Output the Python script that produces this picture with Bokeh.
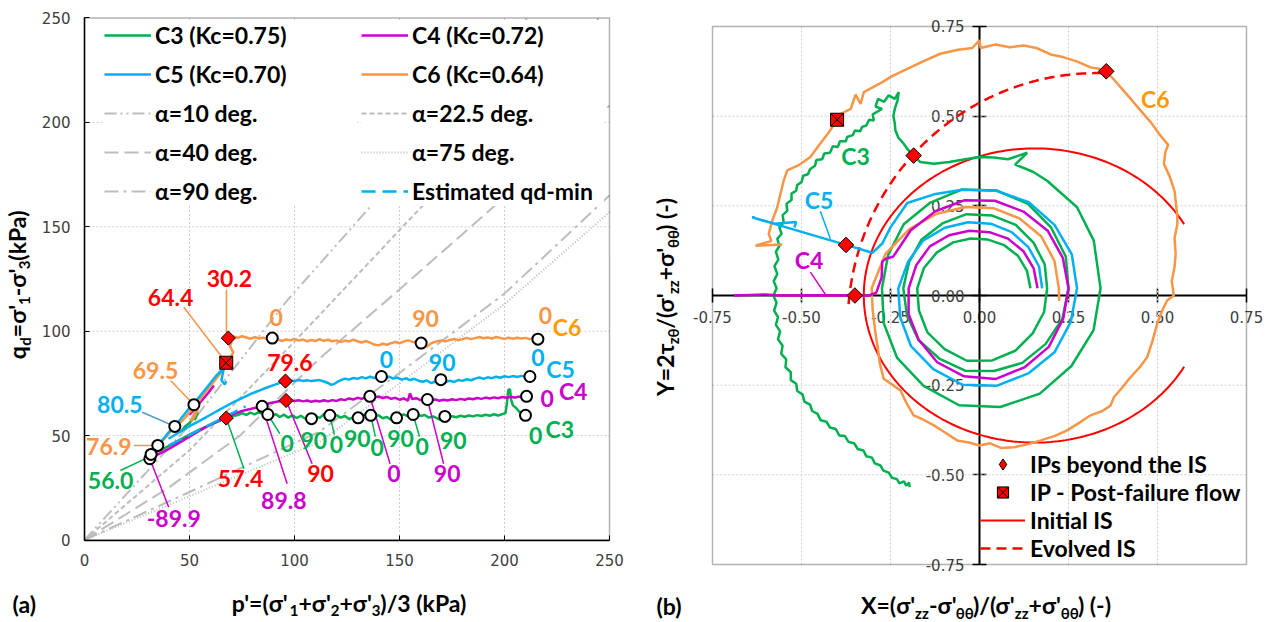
import numpy as np
from bokeh.plotting import figure
from bokeh.models import (ColumnDataSource, Range1d, Legend, LegendItem, Label,
                          FixedTicker, NumeralTickFormatter, BoxAnnotation)
from bokeh.layouts import row
from bokeh.embed import file_html
from bokeh.resources import INLINE
from bokeh.core.properties import value

NAN = float("nan")

GREEN = "#00B050"
MAGENTA = "#CC00CC"
BLUE = "#00B0F0"
ORANGE = "#F79646"
C6_TEXT = "#FF9900"
RED = "#FF0000"
GRAY = "#BDBDBD"
LEADER_BLUE = "#4A9ACB"
GRID = "#CFCFCF"
FONT = "Lato"
TICK_FONT = "DejaVu Sans"

# ---------------------------------------------------------------
# Panel (a): effective stress paths in p'-q_d space (kPa)
# ---------------------------------------------------------------
c3_pq = [(31.7, 41.0), (35, 42.5), (40, 45.0), (45, 47.7), (50, 50.5), (55, 53.0), (60, 55.3),
         (63, 56.5), (67.5, 58.4), (70, 59.3), (73, 59.8), (75, 60.8), (77, 59.9), (79, 61.0),
         (81, 60.2), (83, 61.2), (85, 60.4), (87.3, 60.1), (89, 59.2), (91, 60.3), (93, 58.9),
         (95, 60.0), (97, 58.6), (99, 59.7), (101, 58.4), (103, 59.5), (105, 58.2), (106.5, 57.4),
         (108.1, 58.1), (110, 59.2), (112, 58.5), (114, 60.2), (115.5, 61.0), (116.8, 59.7),
         (118, 58.9), (120, 59.8), (122, 58.6), (124, 59.4), (126, 57.9), (128, 58.8), (130.3, 58.5),
         (132, 59.6), (134, 60.3), (136.3, 59.7), (138, 58.9), (140, 59.8), (142, 58.3), (144, 58.9),
         (146, 57.6), (148.6, 58.5), (150, 59.4), (152, 60.1), (154, 59.3), (156.5, 60.1), (158, 60.6),
         (160, 59.4), (162, 59.9), (164, 58.6), (166, 59.2), (168, 58.2), (170, 57.4), (171.6, 59.2),
         (173, 58.5), (175, 59.3), (177, 58.8), (179, 59.5), (181, 59.0), (183, 59.6), (185, 59.2),
         (187, 59.8), (189, 59.4), (191, 60.0), (193, 59.5), (195, 60.2), (197, 59.6), (199, 60.3),
         (200.5, 60.8), (201.2, 66.0), (201.8, 71.8), (202.6, 72.3), (203.2, 67.0), (204, 64.5),
         (205.5, 63.2), (207, 61.5), (208.5, 60.5), (210, 59.7),
         (NAN, NAN), (46, 52), (48, 54.5), (50, 56), (52, 58.5), (54, 61), (52.5, 57.5)]

c4_pq = [(31.1, 38.9), (33, 40.0), (36, 41.5), (40, 43.5), (45, 46.5), (50, 49.5), (55, 52.5),
         (60, 55.2), (65, 57.8), (70, 60.0), (75, 61.8), (80, 63.0), (84.6, 64.0), (88, 65.5),
         (92, 66.3), (96, 66.8), (98, 67.0), (100, 66.6), (102, 66.9), (104, 66.4), (106, 66.8),
         (108, 66.2), (110, 66.7), (112, 66.3), (114, 66.9), (116, 66.4), (118, 67.0), (120, 66.6),
         (122, 67.4), (124, 67.0), (126, 67.8), (128, 67.3), (130, 68.1), (132, 67.6), (134, 68.5),
         (135.9, 68.8), (138, 68.2), (140, 68.7), (142, 68.0), (144, 68.5), (146, 67.6), (148, 68.1),
         (150, 67.2), (152, 67.8), (154, 66.8), (155, 70.2), (156, 67.5), (158, 67.9), (160, 67.0),
         (161.5, 67.6), (163.3, 67.3), (165, 66.8), (167, 67.3), (169, 66.7), (171, 67.2), (173, 66.8),
         (175, 67.4), (177, 67.0), (179, 67.6), (181, 67.2), (183, 67.8), (185, 67.4), (187, 68.0),
         (189, 67.6), (191, 68.2), (193, 67.8), (195, 68.3), (197, 67.9), (199, 68.5), (201, 68.1),
         (203, 68.6), (205, 68.2), (207, 68.7), (208, 68.3), (210.5, 68.8),
         (NAN, NAN), (50, 60), (53, 63.5), (56, 67), (59, 70.5), (61.6, 74)]

c5_pq = [(30, 39.5), (32, 41.5), (34, 44), (36, 46.5), (38, 49), (40, 51.5), (43, 54.4), (45, 57),
         (47, 59.5), (49, 62), (51, 64.5), (53, 66.5), (55, 69), (57, 71.5), (59, 74), (61, 76.5),
         (63, 79), (65, 81), (66.5, 83), (65.2, 76.5), (66.8, 74.5), (67.5, 76),
         (NAN, NAN), (40, 48.5), (45, 51.5), (50, 54.5), (55, 57.2), (60, 60), (65, 62.8), (70, 65.5),
         (75, 68), (80, 70.3), (85, 72.3), (90, 74.2), (95.7, 76.1), (98, 76.4), (100, 76.2),
         (102, 76.6), (104, 76.2), (106, 76.5), (108, 76.1), (110, 76.4), (112, 76.6), (114, 75.9),
         (116, 75.2), (117.5, 74.3), (119, 74.8), (120.5, 75.8), (122, 76.5), (124, 77.3), (126, 76.8),
         (128, 77.6), (130, 77.2), (132, 78.0), (134, 77.4), (136, 78.2), (138, 77.6), (140, 78.4),
         (141.4, 78.3), (143, 77.5), (145, 78.2), (147, 77.3), (149, 77.8), (151, 76.8), (153, 77.4),
         (155, 76.6), (157, 77.2), (159, 76.3), (161, 75.8), (163, 76.4), (165, 75.2), (167, 75.8),
         (169.7, 76.8), (172, 75.6), (174, 76.3), (176, 75.7), (178, 76.6), (180, 76.2), (182, 77.0),
         (184, 76.5), (186, 77.3), (188, 77.8), (190, 77.2), (192, 77.9), (194, 77.5), (196, 78.2),
         (198, 77.7), (200, 78.4), (202, 78.0), (204, 78.5), (206, 78.1), (208, 78.6), (210, 78.2),
         (212.1, 78.3), (214, 77.2)]

c6_pq = [(31.5, 40.5), (33, 43), (34.9, 45.3), (37, 47.5), (39, 49.5), (41, 52), (43.8, 54.4),
         (45.8, 56.5), (47.8, 58.5), (49.8, 61), (51.3, 62.5), (52.9, 64.8), (53.8, 62), (52, 58.5),
         (50.5, 57), (52, 60), (54.5, 66.5), (56.5, 69.5), (58.5, 72), (60.5, 74.5), (62.5, 77),
         (64.5, 79.5), (66.3, 82.5), (67.5, 84.9), (68.5, 86.5), (70, 88), (70.8, 90), (70, 91.5),
         (69.2, 93), (70, 94.5), (68.5, 96.7), (71, 97.5), (73, 96.8), (75, 97.6), (77, 97.0),
         (79, 96.4), (81, 97.2), (83, 96.5), (85, 96.9), (87, 96.2), (89.4, 96.7), (92, 96.0),
         (94, 95.3), (96, 96.0), (98, 95.6), (100, 96.3), (102, 95.5), (104, 96.0), (106, 95.2),
         (108, 95.8), (110, 95.3), (112, 96.2), (114, 95.4), (116, 95.9), (118, 95.2), (120, 95.6),
         (122, 94.8), (124, 95.5), (126, 95.1), (128, 95.9), (130, 95.2), (132, 94.6), (134, 95.3),
         (136, 94.5), (138, 93.6), (140, 93.2), (142, 94.0), (144, 93.5), (146, 94.3), (148, 94.8),
         (150, 94.2), (152, 95.0), (154, 95.6), (156, 95.0), (158, 94.5), (160.3, 94.3), (162, 93.5),
         (163, 92.5), (164.5, 93.8), (166, 94.6), (168, 95.2), (170, 95.6), (172, 95.1), (174, 95.8),
         (176, 96.3), (178, 95.7), (180, 96.2), (182, 96.8), (184, 96.2), (186, 96.7), (188, 97.2),
         (190, 96.6), (192, 97.0), (194, 96.5), (196, 97.2), (198, 96.8), (200, 96.3), (202, 96.9),
         (204, 96.4), (206, 96.9), (208, 96.5), (210, 96.8), (212, 96.2), (214, 96.5), (215.9, 96.2)]

qd_min_estimate = [(40.2, 45.3), (76.7, 64.0)]

# stress-ratio lines for principal stress direction alpha
alpha_10 = [(0, 0), (50, 55), (96.5, 114.7), (134.7, 158), (180, 212), (211, 250)]
alpha_225 = [(0, 0), (50, 43), (100, 95), (159, 158), (210, 212), (245, 250)]
alpha_40 = [(0, 0), (40, 25), (74, 50), (112, 87), (150, 120), (193, 158), (250, 208)]
alpha_75 = [(0, 0), (50, 21), (112, 47), (150, 75), (200, 113), (250, 157)]
alpha_90 = [(0, 0), (50, 23), (112, 52), (150, 80), (200, 118), (250, 165)]

# alpha = 0 / 90 deg. markers along each path
cycle_marks = [(89.4, 96.7), (160.3, 94.3), (215.9, 96.2), (52.1, 64.8), (34.9, 45.3),
               (141.4, 78.3), (169.7, 76.8), (212.1, 78.3), (43.0, 54.4),
               (135.9, 68.8), (163.3, 67.3), (210.5, 68.8), (84.6, 64.0), (31.1, 38.9),
               (87.3, 60.1), (108.1, 58.1), (116.8, 59.7), (130.3, 58.5), (136.3, 59.7),
               (148.6, 58.5), (156.5, 60.1), (171.6, 59.2), (210.0, 59.7), (31.7, 41.0)]

ips_a = [(68.5, 96.7), (67.5, 58.4), (95.7, 76.1), (96.0, 66.8)]
ip_flow_a = [(67.5, 84.9)]

notes_a = [("30.2", 69.0, 125.0, RED), ("64.4", 41.0, 116.3, RED), ("79.6", 97.8, 85.2, RED),
           ("57.4", 74.3, 29.3, RED), ("90", 112.4, 31.7, RED),
           ("69.5", 33.8, 81.2, ORANGE), ("76.9", 11.6, 45.0, ORANGE), ("0", 91.3, 106.8, ORANGE),
           ("90", 162.4, 106.0, ORANGE), ("0", 219.5, 107.6, ORANGE), ("C6", 229.8, 102.0, C6_TEXT),
           ("80.5", 16.8, 64.9, BLUE), ("0", 143.8, 86.3, BLUE), ("90", 170.3, 85.2, BLUE),
           ("0", 215.9, 87.3, BLUE), ("C5", 226.7, 82.0, BLUE),
           ("-89.9", 42.5, 10.2, MAGENTA), ("89.8", 94.9, 18.9, MAGENTA), ("0", 147.3, 31.7, MAGENTA),
           ("90", 172.7, 31.7, MAGENTA), ("0", 220.3, 67.7, MAGENTA), ("C4", 232.7, 71.6, MAGENTA),
           ("56.0", 12.4, 28.5, GREEN), ("0", 96.5, 46.1, GREEN), ("90", 109.2, 47.7, GREEN),
           ("0", 120.0, 45.8, GREEN), ("90", 129.9, 48.5, GREEN), ("0", 139.4, 44.5, GREEN),
           ("90", 150.5, 48.5, GREEN), ("0", 160.8, 44.8, GREEN), ("90", 175.6, 47.7, GREEN),
           ("0", 214.8, 50.1, GREEN), ("C3", 226.3, 53.3, GREEN)]

leaders_a = [(67.6, 98.5, 67.6, 120.0, ORANGE), (47.3, 111.5, 67.5, 84.9, ORANGE),
             (41.0, 76.4, 52.1, 64.8, ORANGE), (27.5, 61.2, 43.0, 54.4, LEADER_BLUE),
             (23.5, 45.3, 34.9, 45.3, ORANGE), (17.1, 33.3, 30.6, 39.7, GREEN),
             (31.1, 38.9, 40.1, 15.7, MAGENTA), (67.5, 58.4, 75.9, 34.1, GREEN),
             (84.6, 64.0, 96.5, 26.9, MAGENTA), (96.0, 66.8, 108.4, 36.5, MAGENTA),
             (87.3, 60.1, 93.0, 50.9, GREEN), (116.8, 59.7, 119.0, 50.5, GREEN),
             (136.3, 59.7, 138.5, 49.5, GREEN), (156.5, 60.1, 159.5, 49.5, GREEN),
             (135.9, 68.8, 145.5, 36.5, MAGENTA), (163.3, 67.3, 171.0, 36.5, MAGENTA)]

# ---------------------------------------------------------------
# Panel (b): normalised stress paths in the X-Y plane
# cyclic part of each path read as radius every 20 deg. about RING_CENTRE
# ---------------------------------------------------------------
RING_CENTRE = (0.0, 0.02)
RING_STEP = 20

c3_ring_r = [0.143, 0.142, 0.141, 0.139, 0.138, 0.141, 0.148, 0.156, 0.166, 0.175, 0.181, 0.191,
             0.196, 0.205, 0.204, 0.201, 0.195, 0.193, 0.190, 0.195, 0.198, 0.204, 0.206, 0.210,
             0.209, 0.212, 0.211, 0.214, 0.217, 0.224, 0.226, 0.233, 0.234, 0.240, 0.242, 0.248,
             0.250, 0.258, 0.263, 0.272, 0.277, 0.280, 0.276, 0.278, 0.273, 0.274, 0.286, 0.302,
             0.314, 0.331, 0.336, 0.339, 0.337, 0.341, 0.340]
c3_tail = [(0.321, 0.153), (0.274, 0.246),
           (0.190, 0.320), (0.150, 0.345), (0.100, 0.365), (0.134, 0.398), (0.080, 0.380),
           (0.040, 0.385), (0.000, 0.386), (-0.040, 0.380), (-0.085, 0.372), (-0.128, 0.367),
           (-0.166, 0.372), (-0.185, 0.390), (-0.200, 0.405), (-0.213, 0.423), (-0.228, 0.440),
           (-0.236, 0.460), (-0.238, 0.480), (-0.242, 0.500), (-0.238, 0.520), (-0.230, 0.545),
           (-0.227, 0.567), (-0.238, 0.548), (-0.255, 0.558), (-0.268, 0.540), (-0.285, 0.548),
           (-0.292, 0.527), (-0.274, 0.520), (-0.300, 0.505), (-0.297, 0.488), (-0.310, 0.490),
           (-0.318, 0.474), (-0.330, 0.470), (-0.335, 0.458), (-0.350, 0.460), (-0.356, 0.447),
           (-0.372, 0.442), (-0.375, 0.430), (-0.392, 0.430), (-0.398, 0.414), (-0.412, 0.416),
           (-0.420, 0.398), (-0.436, 0.396), (-0.442, 0.380), (-0.458, 0.378), (-0.462, 0.362),
           (-0.476, 0.352), (-0.482, 0.338), (-0.495, 0.334), (-0.500, 0.316), (-0.512, 0.308),
           (-0.515, 0.292), (-0.528, 0.284), (-0.528, 0.266), (-0.542, 0.256), (-0.540, 0.236),
           (-0.553, 0.224), (-0.550, 0.204), (-0.562, 0.190), (-0.556, 0.172), (-0.568, 0.158),
           (-0.562, 0.138), (-0.572, 0.122), (-0.565, 0.100), (-0.576, 0.082), (-0.568, 0.060),
           (-0.578, 0.040), (-0.570, 0.020), (-0.579, 0.000), (-0.570, -0.020), (-0.577, -0.042),
           (-0.566, -0.060), (-0.572, -0.082), (-0.560, -0.100), (-0.566, -0.122), (-0.553, -0.140),
           (-0.557, -0.162), (-0.543, -0.178), (-0.545, -0.200), (-0.530, -0.214), (-0.530, -0.236),
           (-0.515, -0.246), (-0.512, -0.266), (-0.497, -0.276), (-0.492, -0.296), (-0.476, -0.304),
           (-0.470, -0.322), (-0.455, -0.330), (-0.446, -0.348), (-0.430, -0.352), (-0.420, -0.368),
           (-0.404, -0.372), (-0.394, -0.390), (-0.378, -0.392), (-0.368, -0.408), (-0.352, -0.412),
           (-0.342, -0.428), (-0.326, -0.432), (-0.318, -0.448), (-0.302, -0.452), (-0.294, -0.468),
           (-0.278, -0.474), (-0.270, -0.488), (-0.255, -0.494), (-0.246, -0.508), (-0.232, -0.512),
           (-0.225, -0.524), (-0.212, -0.518), (-0.206, -0.530), (-0.198, -0.522), (-0.196, -0.534)]

c4_ring_r = [0.163, 0.162, 0.161, 0.160, 0.159, 0.163, 0.171, 0.182, 0.189, 0.199, 0.212, 0.223,
             0.238, 0.249, 0.257, 0.254, 0.254, 0.250, 0.250, 0.249, 0.250, 0.247, 0.248, 0.249,
             0.248, 0.252, 0.258]
c4_tail = [(-0.262, 0.103), (-0.273, 0.095), (-0.275, 0.050), (-0.290, 0.008), (-0.310, 0.000),
           (-0.350, 0.000), (-0.450, 0.001), (-0.560, 0.000), (-0.600, 0.003), (-0.690, 0.000)]

c5_ring_r = [0.176, 0.178, 0.179, 0.181, 0.183, 0.187, 0.195, 0.207, 0.214, 0.228, 0.237, 0.251,
             0.260, 0.273, 0.276, 0.274, 0.276, 0.273, 0.274, 0.276, 0.275, 0.277, 0.276, 0.279]
c5_tail = [(-0.128, 0.282), (-0.203, 0.258), (-0.250, 0.190), (-0.273, 0.145), (-0.301, 0.119),
           (-0.375, 0.141), (-0.639, 0.218), (-0.575, 0.200), (-0.515, 0.205), (-0.520, 0.190)]

c6_head = [(0.224, -0.015)]
c6_ring_r = [0.223, 0.224, 0.226, 0.225, 0.227, 0.230, 0.240, 0.257, 0.281, 0.303]
c6_tail = [(-0.300, -0.040),
           (-0.296, -0.075), (-0.292, -0.107), (-0.285, -0.150), (-0.280, -0.190), (-0.269, -0.232),
           (-0.250, -0.245), (-0.222, -0.265), (-0.205, -0.300), (-0.185, -0.334), (-0.160, -0.345),
           (-0.128, -0.362), (-0.100, -0.380), (-0.063, -0.404), (-0.030, -0.410), (0.000, -0.418),
           (0.030, -0.412), (0.060, -0.425), (0.097, -0.423), (0.135, -0.415), (0.172, -0.404),
           (0.210, -0.392), (0.246, -0.376), (0.280, -0.355), (0.312, -0.334), (0.345, -0.322),
           (0.368, -0.307), (0.378, -0.283), (0.400, -0.258), (0.424, -0.228), (0.450, -0.200),
           (0.471, -0.172), (0.485, -0.130), (0.499, -0.079), (0.512, -0.045), (0.527, -0.014),
           (0.546, 0.000), (0.540, 0.040), (0.548, 0.080), (0.551, 0.116), (0.548, 0.160),
           (0.556, 0.200), (0.555, 0.228), (0.548, 0.290), (0.535, 0.330), (0.518, 0.367),
           (0.522, 0.400), (0.530, 0.420), (0.508, 0.446), (0.482, 0.482), (0.452, 0.516),
           (0.425, 0.548), (0.396, 0.581), (0.375, 0.605), (0.356, 0.625), (0.335, 0.632),
           (0.312, 0.636), (0.275, 0.652), (0.237, 0.664), (0.200, 0.672), (0.160, 0.690),
           (0.124, 0.697), (0.085, 0.692), (0.045, 0.700), (0.003, 0.690), (0.000, 0.712),
           (-0.020, 0.690), (-0.060, 0.685), (-0.110, 0.674), (-0.160, 0.652), (-0.222, 0.623),
           (-0.248, 0.610), (-0.273, 0.595), (-0.300, 0.580), (-0.325, 0.567), (-0.334, 0.534),
           (-0.348, 0.560), (-0.362, 0.520), (-0.390, 0.506), (-0.400, 0.490), (-0.423, 0.455),
           (-0.450, 0.420), (-0.475, 0.386), (-0.505, 0.365), (-0.540, 0.349), (-0.550, 0.320),
           (-0.560, 0.280), (-0.568, 0.246), (-0.582, 0.209), (-0.592, 0.172), (-0.585, 0.152),
           (-0.629, 0.139), (-0.554, 0.142)]

ips_b = [(-0.185, 0.390), (-0.375, 0.141), (-0.350, 0.000), (0.356, 0.625)]
ip_flow_b = [(-0.400, 0.490)]

# instability surfaces: elliptical arcs (centre, semi-axes, start/end angle in deg.)
is_initial = dict(cx=0.155, cy=0.0, ax=0.48, ay=0.41, start=29.0, end=331.0)
is_evolved = dict(cx=0.330, cy=-0.08, ax=0.70, ay=0.70, start=88.8, end=176.0)

notes_b = [("C6", 0.494, 0.547, C6_TEXT), ("C3", -0.348, 0.390, GREEN),
           ("C5", -0.451, 0.265, BLUE), ("C4", -0.479, 0.098, MAGENTA)]
leaders_b = [(-0.447, 0.235, -0.419, 0.158, BLUE), (-0.475, 0.065, -0.433, 0.003, MAGENTA)]


def split(pairs):
    return [a for a, _ in pairs], [b for _, b in pairs]


def ring_path(radii, head=(), tail=()):
    deg = np.arange(len(radii)) * RING_STEP
    t = np.radians(deg)
    xs = list(RING_CENTRE[0] + np.asarray(radii) * np.cos(t))
    ys = list(RING_CENTRE[1] + np.asarray(radii) * np.sin(t))
    hx, hy = split(head) if head else ([], [])
    tx, ty = split(tail) if tail else ([], [])
    return hx + xs + tx, hy + ys + ty


def arc(spec, n=240):
    t = np.radians(np.linspace(spec["start"], spec["end"], n))
    return spec["cx"] + spec["ax"] * np.cos(t), spec["cy"] + spec["ay"] * np.sin(t)


# approximate advance widths (em) of the bold label face, used to lay out
# axis titles that carry subscripts
EM = {" ": 0.20, "'": 0.24, "(": 0.31, ")": 0.31, "+": 0.58, "=": 0.58, "-": 0.35, "/": 0.38,
      ".": 0.23, "a": 0.51, "d": 0.58, "k": 0.54, "p": 0.58, "q": 0.58, "z": 0.46, "P": 0.60,
      "X": 0.64, "Y": 0.61, "σ": 0.58, "θ": 0.57, "τ": 0.48}
HAS_ANCHOR = "anchor" in Label.properties()
TITLE_SIZE = 23
SUB_SIZE = 15
SUB_SHIFT = 8   # centre of a subscript run sits this many px below the main run's centre


def text_w(s, size):
    return sum(EM.get(c, 0.58) for c in s) * size


def title_label(**kw):
    extra = dict(anchor="center_left") if HAS_ANCHOR else {}
    return Label(x_units="screen", y_units="screen", text_font=FONT, text_font_style="bold",
                 text_color="black", text_align="left", text_baseline="middle", **extra, **kw)


def rich_title(p, pieces, center, mid, vertical=False):
    """Title made of normal and subscript runs; canvas pixels, `mid` = centre line."""
    total = sum(text_w(t, SUB_SIZE if sub else TITLE_SIZE) for t, sub in pieces)
    pos = center - total / 2.0
    for t, sub in pieces:
        fs = SUB_SIZE if sub else TITLE_SIZE
        if vertical:
            lab = title_label(x=mid + (SUB_SHIFT if sub else 0), y=pos, angle=np.pi / 2,
                              text=t, text_font_size=f"{fs}px")
        else:
            lab = title_label(x=pos, y=mid - (SUB_SHIFT if sub else 0), text=t,
                              text_font_size=f"{fs}px")
        p.add_layout(lab)
        pos += text_w(t, fs)


def make_panel(x_range, y_range):
    # the frame fills the whole canvas; the plotting box is drawn explicitly
    p = figure(width=634, height=622, x_range=x_range, y_range=y_range, output_backend="svg",
               toolbar_location=None, title=None, min_border=0, min_border_left=0,
               min_border_right=0, min_border_top=0, min_border_bottom=0)
    p.background_fill_color = "white"
    p.border_fill_color = "white"
    p.outline_line_color = None
    p.grid.visible = False
    for ax in (p.xaxis, p.yaxis):
        ax.fixed_location = 0
        ax.major_label_text_font = TICK_FONT
        ax.major_label_text_font_size = "15px"
        ax.major_label_text_color = "#404040"
        ax.minor_tick_line_color = None
        ax.axis_line_color = "black"
        ax.major_tick_line_color = "black"
    return p


def draw_grid(p, ticks, lo, hi):
    n = len(ticks)
    p.segment(x0=ticks, y0=[lo] * n, x1=ticks, y1=[hi] * n, line_color=GRID, line_width=1,
              line_dash="2 2")
    p.segment(x0=[lo] * n, y0=ticks, x1=[hi] * n, y1=ticks, line_color=GRID, line_width=1,
              line_dash="2 2")


# ------------------------------ panel (a) ------------------------------
pa = make_panel(Range1d(-40.0, 261.905), Range1d(-39.51, 258.38))
ticks_a = [0, 50, 100, 150, 200, 250]
for ax in (pa.xaxis, pa.yaxis):
    ax.ticker = FixedTicker(ticks=ticks_a)
    ax.bounds = (0, 250)
    ax.major_tick_in = 5
    ax.major_tick_out = 0
    ax.axis_line_width = 1.5
    ax.major_label_standoff = 14
draw_grid(pa, [50, 100, 150, 200], 0, 250)

r_a10 = pa.line(*split(alpha_10), line_color=GRAY, line_width=2, line_dash="12 4 2 4 2 4")
r_a225 = pa.line(*split(alpha_225), line_color=GRAY, line_width=2, line_dash="5 3")
r_a40 = pa.line(*split(alpha_40), line_color=GRAY, line_width=2, line_dash="14 6")
r_a75 = pa.line(*split(alpha_75), line_color=GRAY, line_width=2, line_dash="1 2")
r_a90 = pa.line(*split(alpha_90), line_color=GRAY, line_width=2, line_dash="14 5 3 5")

r_c3 = pa.line(*split(c3_pq), line_color=GREEN, line_width=2.5)
r_c4 = pa.line(*split(c4_pq), line_color=MAGENTA, line_width=2.5)
r_c6 = pa.line(*split(c6_pq), line_color=ORANGE, line_width=2.5)
r_c5 = pa.line(*split(c5_pq), line_color=BLUE, line_width=2.5)
r_est = pa.line(*split(qd_min_estimate), line_color=BLUE, line_width=2.5, line_dash="14 7")

lead_a = ColumnDataSource(dict(x0=[l[0] for l in leaders_a], y0=[l[1] for l in leaders_a],
                               x1=[l[2] for l in leaders_a], y1=[l[3] for l in leaders_a],
                               c=[l[4] for l in leaders_a]))
pa.segment("x0", "y0", "x1", "y1", source=lead_a, line_color="c", line_width=1.5)

mx, my = split(cycle_marks)
pa.scatter(mx, my, marker="circle", size=11, fill_color="white", line_color="black", line_width=2)
dx, dy = split(ips_a)
pa.scatter(dx, dy, marker="square", angle=np.pi / 4, size=10, fill_color=RED,
           line_color="black", line_width=1)
fx, fy = split(ip_flow_a)
pa.scatter(fx, fy, marker="square_x", size=13, fill_color=RED, line_color="black", line_width=1)

txt_a = ColumnDataSource(dict(x=[n[1] for n in notes_a], y=[n[2] for n in notes_a],
                              t=[n[0] for n in notes_a], c=[n[3] for n in notes_a]))
pa.text("x", "y", text="t", source=txt_a, text_color="c", text_font=value(FONT),
        text_font_style="bold", text_font_size="23px", text_align="center",
        text_baseline="middle")

legend_kw = dict(label_text_font=FONT, label_text_font_style="bold", label_text_font_size="23px",
                 label_text_color="black", glyph_width=47, glyph_height=30, label_height=30,
                 label_standoff=4, spacing=9, padding=2, margin=0, border_line_color=None,
                 background_fill_color="white", background_fill_alpha=1.0)
leg_a1 = Legend(items=[LegendItem(label="C3 (Kc=0.75)", renderers=[r_c3]),
                       LegendItem(label="C5 (Kc=0.70)", renderers=[r_c5]),
                       LegendItem(label="α=10 deg.", renderers=[r_a10]),
                       LegendItem(label="α=40 deg.", renderers=[r_a40]),
                       LegendItem(label="α=90 deg.", renderers=[r_a90])],
                location=(104, 416), label_width=202, **legend_kw)
leg_a2 = Legend(items=[LegendItem(label="C4 (Kc=0.72)", renderers=[r_c4]),
                       LegendItem(label="C6 (Kc=0.64)", renderers=[r_c6]),
                       LegendItem(label="α=22.5 deg.", renderers=[r_a225]),
                       LegendItem(label="α=75 deg.", renderers=[r_a75]),
                       LegendItem(label="Estimated qd-min", renderers=[r_est])],
                location=(361, 416), label_width=192, **legend_kw)
pa.add_layout(leg_a1)
pa.add_layout(leg_a2)
pa.add_layout(BoxAnnotation(left=0, right=250, bottom=0, top=250, fill_alpha=0,
                            fill_color=None, line_color="black", line_width=1.5))

rich_title(pa, [("p'=(σ'", 0), ("1", 1), ("+σ'", 0), ("2", 1), ("+σ'", 0), ("3", 1),
                (")/3 (kPa)", 0)], center=348.5, mid=20)
rich_title(pa, [("q", 0), ("d", 1), ("=σ'", 0), ("1", 1), ("-σ'", 0), ("3", 1), (" (kPa)", 0)],
           center=341, mid=16, vertical=True)
pa.add_layout(title_label(x=12, y=19, text="(a)", text_font_size="23px"))

# ------------------------------ panel (b) ------------------------------
pb = make_panel(Range1d(-0.96910, 0.81180), Range1d(-0.91163, 0.82242))
ticks_b = [-0.75, -0.5, -0.25, 0.0, 0.25, 0.5, 0.75]
for ax in (pb.xaxis, pb.yaxis):
    ax.ticker = FixedTicker(ticks=ticks_b)
    ax.formatter = NumeralTickFormatter(format="0.00")
    ax.bounds = (-0.75, 0.75)
    ax.major_tick_in = 7
    ax.major_tick_out = 7
    ax.axis_line_width = 2
    ax.major_tick_line_width = 1.5
    ax.major_label_standoff = 8
    ax.level = "underlay"
draw_grid(pb, [-0.5, -0.25, 0.25, 0.5], -0.75, 0.75)

ix, iy = arc(is_initial)
r_is0 = pb.line(ix, iy, line_color=RED, line_width=2)
ex, ey = arc(is_evolved)
r_is1 = pb.line(ex, ey, line_color=RED, line_width=2.5, line_dash="10 6")

pb.line(*ring_path(c3_ring_r, tail=c3_tail), line_color=GREEN, line_width=2.5)
pb.line(*ring_path(c6_ring_r, head=c6_head, tail=c6_tail), line_color=ORANGE, line_width=2.5)
pb.line(*ring_path(c5_ring_r, tail=c5_tail), line_color=BLUE, line_width=2.5)
pb.line(*ring_path(c4_ring_r, tail=c4_tail), line_color=MAGENTA, line_width=2.5)

lead_b = ColumnDataSource(dict(x0=[l[0] for l in leaders_b], y0=[l[1] for l in leaders_b],
                               x1=[l[2] for l in leaders_b], y1=[l[3] for l in leaders_b],
                               c=[l[4] for l in leaders_b]))
pb.segment("x0", "y0", "x1", "y1", source=lead_b, line_color="c", line_width=1.5)

# IP markers: a diamond glyph (used as the legend key) under squares turned 45 deg.
bx, by = split(ips_b)
r_ip_key = pb.scatter(bx, by, marker="diamond", size=11, fill_color=RED, line_color="black",
                      line_width=1)
pb.scatter(bx, by, marker="square", angle=np.pi / 4, size=11, fill_color=RED,
           line_color="black", line_width=1)
gx, gy = split(ip_flow_b)
r_ipf = pb.scatter(gx, gy, marker="square_x", size=13, fill_color=RED, line_color="black",
                   line_width=1)

txt_b = ColumnDataSource(dict(x=[n[1] for n in notes_b], y=[n[2] for n in notes_b],
                              t=[n[0] for n in notes_b], c=[n[3] for n in notes_b]))
pb.text("x", "y", text="t", source=txt_b, text_color="c", text_font=value(FONT),
        text_font_style="bold", text_font_size="23px", text_align="center",
        text_baseline="middle")

pb.add_layout(BoxAnnotation(left=-0.75, right=0.75, bottom=-0.75, top=0.75, fill_alpha=0,
                            fill_color=None, line_color="black", line_width=1.5))

leg_b = Legend(items=[LegendItem(label="IPs beyond the IS", renderers=[r_ip_key]),
                      LegendItem(label="IP - Post-failure flow", renderers=[r_ipf]),
                      LegendItem(label="Initial IS", renderers=[r_is0]),
                      LegendItem(label="Evolved IS", renderers=[r_is1])],
               location=(346, 60), label_text_font=FONT, label_text_font_style="bold",
               label_text_font_size="23px", label_text_color="black", glyph_width=45,
               glyph_height=28, label_height=28, label_standoff=5, spacing=0, padding=0,
               margin=0, border_line_color=None, background_fill_alpha=0.0)
pb.add_layout(leg_b)

rich_title(pb, [("X=(σ'", 0), ("zz", 1), ("-σ'", 0), ("θθ", 1), (")/(σ'", 0), ("zz", 1),
                ("+σ'", 0), ("θθ", 1), (") (-)", 0)], center=352, mid=18)
rich_title(pb, [("Y=2τ", 0), ("zθ", 1), ("/(σ'", 0), ("zz", 1), ("+σ'", 0), ("θθ", 1),
                (") (-)", 0)], center=326, mid=30, vertical=True)
pb.add_layout(title_label(x=22, y=17, text="(b)", text_font_size="23px"))

layout = row(pa, pb)
open("out.html", "w").write(file_html(layout, INLINE, "Stress paths"))
